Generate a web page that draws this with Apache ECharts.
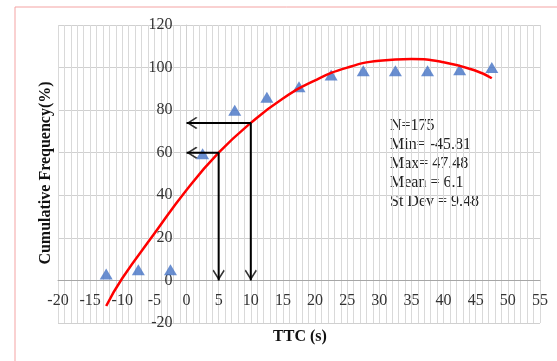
<!DOCTYPE html>
<html>
<head>
<meta charset="utf-8">
<script src="https://cdn.jsdelivr.net/npm/echarts@6/dist/echarts.min.js"></script>
<style>
html,body{margin:0;padding:0;background:#fff;}
#chart{width:557px;height:361px;}
</style>
</head>
<body>
<div id="chart"></div>
<script>
// ---- data ----
var pointX = [-12.5, -7.5, -2.5, 2.5, 7.5, 12.5, 17.5, 22.5, 27.5, 32.5, 37.5, 42.5, 47.5];
var pointY = [3, 5, 5, 59.5, 80, 86, 91, 96.5, 98.5, 98.5, 98.5, 99, 100];
var trendX = [-12.5, -10, -5, 0, 5, 10, 15, 20, 25, 30, 35, 40, 45, 47.5];
var trendY = [-12, 1, 22, 42.5, 60, 74, 85.5, 94, 100, 103.2, 104, 102.5, 98.5, 95];
var arrowX = [5, 10];
var arrowY = [60, 74];
var xTicks = [-20, 55, 5];
var yTicks = [-20, 120, 20];
var statsLines = ['N=175', 'Min= -45.81', 'Max= 47.48', 'Mean = 6.1', 'St Dev = 9.48'];
var xTitle = 'TTC (s)';
var yTitle = 'Cumulative Frequency(%)';

var FONT = '"Liberation Serif", "Times New Roman", serif';
var chevron = 'path://M10,0 L20,10.3 L18.4,12 L10,3.2 L1.6,12 L0,10.3 Z';

// layout
var W = 557, H = 361;
var G = { left: 58, right: 17, top: 25, bottom: 38 };
var plotW = W - G.left - G.right, plotH = H - G.top - G.bottom;
var yAxisShift = plotW * (0 - xTicks[0]) / (xTicks[1] - xTicks[0]);
var xAxisShift = plotH * (0 - yTicks[0]) / (yTicks[1] - yTicks[0]);

var series = [];
series.push({
  type: 'scatter',
  data: pointX.map(function (x, i) { return [x, pointY[i]]; }),
  symbol: 'triangle',
  symbolSize: [13, 11],
  itemStyle: { color: '#4472C4' },
  z: 2
});
series.push({
  type: 'line',
  data: trendX.map(function (x, i) { return [x, trendY[i]]; }),
  smooth: true,
  showSymbol: false,
  lineStyle: { color: '#FF0000', width: 2.5 },
  itemStyle: { color: '#FF0000' },
  z: 3
});
var heads = [];
arrowX.forEach(function (ax, i) {
  var ay = arrowY[i];
  series.push({
    type: 'line',
    data: [[0, ay], [ax, ay], [ax, 0]],
    showSymbol: false,
    lineStyle: { color: '#000', width: 2 },
    z: 4
  });
  heads.push({ value: [0, ay], symbolRotate: 90, symbolOffset: [5.5, 0] });
  heads.push({ value: [ax, 0], symbolRotate: 180, symbolOffset: [0, -5.5] });
});
series.push({
  type: 'scatter',
  data: heads,
  symbol: chevron,
  symbolSize: [12, 11],
  itemStyle: { color: '#000' },
  z: 5
});

var chart = echarts.init(document.getElementById('chart'));
chart.setOption({
  animation: false,
  backgroundColor: '#fff',
  grid: { left: G.left, right: G.right, top: G.top, bottom: G.bottom, containLabel: false },
  xAxis: [{
    type: 'value',
    min: xTicks[0], max: xTicks[1], interval: xTicks[2],
    position: 'bottom',
    offset: -xAxisShift,
    axisLine: { show: true, onZero: false, lineStyle: { color: '#A6A6A6', width: 1 } },
    axisTick: { show: false },
    minorTick: { show: false, splitNumber: 5 },
    minorSplitLine: { show: true, lineStyle: { color: '#D9D9D9', width: 1 } },
    splitLine: { show: true, lineStyle: { color: '#D9D9D9', width: 1 } },
    axisLabel: { fontFamily: FONT, fontSize: 16, color: '#333', margin: 12 }
  }],
  yAxis: [{
    type: 'value',
    min: yTicks[0], max: yTicks[1], interval: yTicks[2],
    position: 'left',
    offset: -yAxisShift,
    axisLine: { show: true, onZero: false, lineStyle: { color: '#D0D0D0', width: 1 } },
    axisTick: { show: false },
    splitLine: { show: true, lineStyle: { color: '#D0D0D0', width: 1 } },
    axisLabel: { fontFamily: FONT, fontSize: 16, color: '#333', margin: 14 }
  }],
  graphic: [
    { type: 'rect', shape: { x: 15, y: 7, width: 600, height: 400 },
      style: { fill: 'none', stroke: '#F4A3A3', lineWidth: 1 }, silent: true },
    { type: 'text', x: 390, y: 116,
      style: { text: statsLines.join('\n'), font: '16px ' + FONT, lineHeight: 19, fill: '#222' } },
    { type: 'text', x: 300, y: 337,
      style: { text: xTitle, font: 'bold 16px ' + FONT, fill: '#111', align: 'center', verticalAlign: 'middle' } },
    { type: 'text', x: 46, y: 173, rotation: Math.PI / 2,
      style: { text: yTitle, font: 'bold 16px ' + FONT, fill: '#111', align: 'center', verticalAlign: 'middle' } }
  ],
  series: series
});
</script>
</body>
</html>
